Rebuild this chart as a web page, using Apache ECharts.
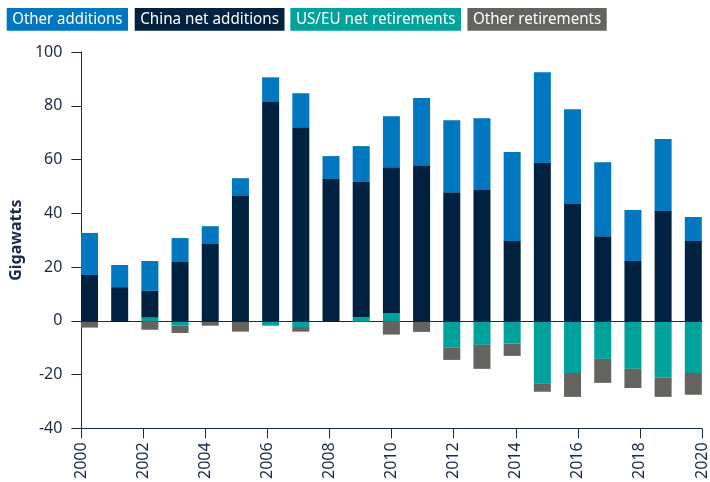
<!DOCTYPE html>
<html>
<head>
<meta charset="utf-8">
<script src="https://cdn.jsdelivr.net/npm/echarts@6/dist/echarts.min.js"></script>
<style>html,body{margin:0;padding:0;background:#fff;}#chart{width:710px;height:482px;}</style>
</head>
<body>
<div id="chart"></div>
<script>
const years = ['2000','2001','2002','2003','2004','2005','2006','2007','2008','2009','2010','2011','2012','2013','2014','2015','2016','2017','2018','2019','2020'];
const otherAdditions   = [15.6, 8.2, 11.1, 8.9, 6.3, 6.3, 8.9, 12.6, 8.5, 13.3, 18.9, 24.9, 26.7, 26.6, 33.0, 33.7, 35.2, 27.4, 18.9, 26.7, 8.9];
const chinaNet         = [17.3, 12.8, 9.9, 22.1, 29.1, 46.9, 81.7, 72.1, 52.9, 50.3, 54.1, 58.0, 48.0, 48.8, 29.9, 58.8, 43.6, 31.7, 22.5, 41.0, 29.9];
const usEuRetirements  = [0, 0, 1.5, -1.5, 0, 0, -1.5, -2.0, 0, 1.5, 3.2, 0, -9.7, -8.6, -8.1, -23.0, -19.0, -13.8, -17.5, -20.7, -19.0];
const otherRetirements = [-2.2, 0, -3.0, -2.7, -1.5, -3.7, 0, -1.7, 0, 0, -4.8, -3.8, -4.5, -8.9, -4.6, -3.0, -8.9, -8.9, -7.1, -7.2, -8.1];
const seriesNames = ['Other additions', 'China net additions', 'US/EU net retirements', 'Other retirements'];
const colors = ['#0077be', '#002240', '#00a29b', '#64635f'];
const yTicks = {min: -40, max: 100, step: 20};
const xTicks = {min: 2000, max: 2020, step: 2};

const axisColor = '#1b2b47';
const chart = echarts.init(document.getElementById('chart'), null, {renderer: 'canvas'});

// legend boxes drawn as graphic (text fitted to each box like the reference)
const legendBoxes = [[6.7, 121.3], [134.7, 149.8], [290.4, 170.6], [467.4, 139.3]];
const ctx = document.createElement('canvas').getContext('2d');
const legendFont = '16px "Noto Sans"';
ctx.font = legendFont;
const legendGraphics = seriesNames.map((n, i) => {
  const [bx, bw] = legendBoxes[i];
  const tw = ctx.measureText(n).width;
  const s = (bw - 11) / tw;
  return {
    type: 'group', children: [
      {type: 'rect', shape: {x: bx, y: 8, width: bw, height: 22.7}, style: {fill: colors[i]}},
      {type: 'text', x: bx + bw / 2, y: 19.5, scaleX: s, scaleY: 1.05,
       style: {text: n, fill: '#ffffff', font: legendFont, align: 'center', verticalAlign: 'middle'}}
    ]
  };
});

const barSeries = (name, idx, data) => ({
  name: name, type: 'bar', stack: 'total', xAxisIndex: 2, yAxisIndex: 1,
  barWidth: 17, data: data, itemStyle: {color: colors[idx]},
  emphasis: {disabled: true}
});

chart.setOption({
  animation: false,
  backgroundColor: '#ffffff',
  textStyle: {fontFamily: 'Noto Sans'},
  graphic: legendGraphics,
  grid: [
    {left: 77, right: 5, top: 52, bottom: 52.5, containLabel: false},
    {left: 74.4, right: 1.6, top: 52, bottom: 52.5, containLabel: false}
  ],
  xAxis: [
    {
      gridIndex: 0, type: 'value', min: xTicks.min, max: xTicks.max, interval: xTicks.step, position: 'bottom',
      axisLine: {show: true, onZero: false, lineStyle: {color: axisColor, width: 1}},
      axisTick: {show: true, length: 10, lineStyle: {color: axisColor}},
      axisLabel: {rotate: 90, fontSize: 16, color: axisColor, margin: 14, fontFamily: 'Noto Sans', formatter: v => String(v)},
      splitLine: {show: false}
    },
    {
      gridIndex: 0, type: 'value', min: xTicks.min, max: xTicks.max, position: 'top',
      axisLine: {show: true, onZero: true, lineStyle: {color: axisColor, width: 1}},
      axisTick: {show: false}, axisLabel: {show: false}, splitLine: {show: false}
    },
    {
      gridIndex: 1, type: 'category', data: years, boundaryGap: true,
      axisLine: {show: false}, axisTick: {show: false}, axisLabel: {show: false}, splitLine: {show: false}
    }
  ],
  yAxis: [
    {
      gridIndex: 0, type: 'value', min: yTicks.min, max: yTicks.max, interval: yTicks.step,
      name: 'Gigawatts', nameLocation: 'middle', nameGap: 53, nameRotate: 90,
      nameTextStyle: {fontSize: 16, fontWeight: 'bold', color: axisColor, fontFamily: 'Noto Sans'},
      axisLine: {show: true, lineStyle: {color: axisColor, width: 1}},
      axisTick: {show: true, length: 10, lineStyle: {color: axisColor}},
      axisLabel: {fontSize: 16, color: axisColor, margin: 19, fontFamily: 'Noto Sans'},
      splitLine: {show: false}
    },
    {
      gridIndex: 1, type: 'value', min: yTicks.min, max: yTicks.max, interval: yTicks.step, show: false,
      splitLine: {show: false}
    }
  ],
  series: [
    barSeries(seriesNames[2], 2, usEuRetirements),
    barSeries(seriesNames[3], 3, otherRetirements),
    barSeries(seriesNames[1], 1, chinaNet),
    barSeries(seriesNames[0], 0, otherAdditions)
  ]
});
</script>
</body>
</html>
